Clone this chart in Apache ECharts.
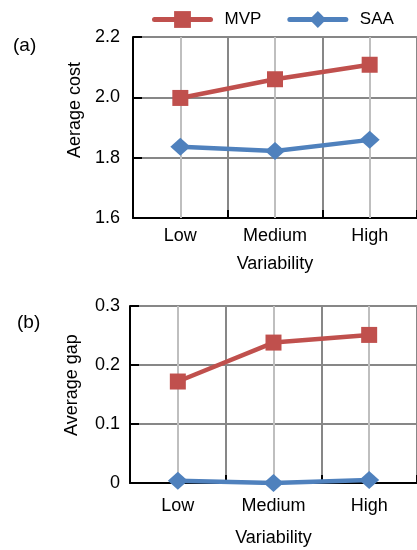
<!DOCTYPE html>
<html>
<head>
<meta charset="utf-8">
<script src="https://cdn.jsdelivr.net/npm/echarts@6/dist/echarts.min.js"></script>
<style>html,body{margin:0;padding:0;background:#fff;}#c{width:417px;height:550px;}</style>
</head>
<body>
<div id="c"></div>
<script>
const categories = ['Low', 'Medium', 'High'];
const mvpCost = [1.998, 2.06, 2.108];
const saaCost = [1.836, 1.822, 1.859];
const mvpGap = [0.172, 0.238, 0.251];
const saaGap = [0.004, 0.0, 0.005];
const costAxis = { min: 1.6, max: 2.2, interval: 0.2 };
const gapAxis = { min: 0, max: 0.3, interval: 0.1 };

const RED = '#C0504D', BLUE = '#4F81BD';
const FONT = 'Liberation Sans, Arial, sans-serif';
const chart = echarts.init(document.getElementById('c'), null, { renderer: 'canvas' });

function xAx(gridIndex, labelMargin, nameGap) {
  return {
    type: 'category', gridIndex, data: categories, boundaryGap: true,
    axisLine: { lineStyle: { color: '#000', width: 2 } },
    axisTick: { show: true, inside: true, length: 8, lineStyle: { color: '#000', width: 2 } },
    axisLabel: { color: '#000', fontSize: 18, fontFamily: FONT, margin: labelMargin },
    splitLine: { show: true, lineStyle: { color: '#878787', width: 2 } },
    name: 'Variability', nameLocation: 'middle', nameGap,
    nameTextStyle: { color: '#000', fontSize: 18, fontFamily: FONT }
  };
}
function yAx(gridIndex, ax, labelMargin, fmt) {
  return {
    type: 'value', gridIndex, min: ax.min, max: ax.max, interval: ax.interval,
    axisLine: { show: true, lineStyle: { color: '#000', width: 2 } },
    axisTick: { show: true, inside: true, length: 9, lineStyle: { color: '#000', width: 2 } },
    axisLabel: { color: '#000', fontSize: 18, fontFamily: FONT, margin: labelMargin, formatter: fmt },
    splitLine: { show: true, lineStyle: { color: '#878787', width: 2 } }
  };
}
function centerLines() {
  return {
    silent: true, symbol: 'none', z: 1, animation: false,
    label: { show: false },
    lineStyle: { color: '#BFBFBF', width: 2, type: 'solid' },
    data: categories.map(c => ({ xAxis: c }))
  };
}
function ser(name, data, xi, color, symbol, size, withLines) {
  const s = {
    name, type: 'line', xAxisIndex: xi, yAxisIndex: xi, data,
    symbol, symbolSize: size, showSymbol: true,
    lineStyle: { color, width: 4.5 },
    itemStyle: { color },
    z: 3, animation: false
  };
  if (withLines) s.markLine = centerLines();
  return s;
}

chart.setOption({
  animation: false,
  textStyle: { fontFamily: FONT },
  legend: {
    data: ['MVP', 'SAA'], left: 147, top: 6,
    itemWidth: 56, itemHeight: 21, itemGap: 26,
    lineStyle: { width: 5, cap: 'round' },
    textStyle: { color: '#000', fontSize: 17, fontFamily: FONT, padding: [0, 0, 0, 9] }
  },
  grid: [
    { left: 133, top: 37, width: 289, height: 181 },
    { left: 130, top: 306, width: 293, height: 177 }
  ],
  xAxis: [xAx(0, 9, 37), xAx(1, 14, 46)],
  yAxis: [
    yAx(0, costAxis, 13, v => v.toFixed(1)),
    yAx(1, gapAxis, 10, v => (Math.abs(v) < 1e-9 ? '0' : v.toFixed(1)))
  ],
  graphic: [
    { type: 'text', x: 13, y: 46, style: { text: '(a)', fontSize: 19, fontFamily: FONT, fill: '#000', textVerticalAlign: 'middle' } },
    { type: 'text', x: 17, y: 323, style: { text: '(b)', fontSize: 19, fontFamily: FONT, fill: '#000', textVerticalAlign: 'middle' } },
    { type: 'text', x: 75, y: 110, rotation: Math.PI / 2, style: { text: 'Aerage cost', fontSize: 18, fontFamily: FONT, fill: '#000', textAlign: 'center', textVerticalAlign: 'middle' } },
    { type: 'text', x: 72, y: 385, rotation: Math.PI / 2, style: { text: 'Average gap', fontSize: 18, fontFamily: FONT, fill: '#000', textAlign: 'center', textVerticalAlign: 'middle' } }
  ],
  series: [
    ser('MVP', mvpCost, 0, RED, 'rect', 16, true),
    ser('SAA', saaCost, 0, BLUE, 'diamond', [20, 18], false),
    ser('MVP', mvpGap, 1, RED, 'rect', 16, true),
    ser('SAA', saaGap, 1, BLUE, 'diamond', [20, 18], false)
  ]
});
</script>
</body>
</html>
